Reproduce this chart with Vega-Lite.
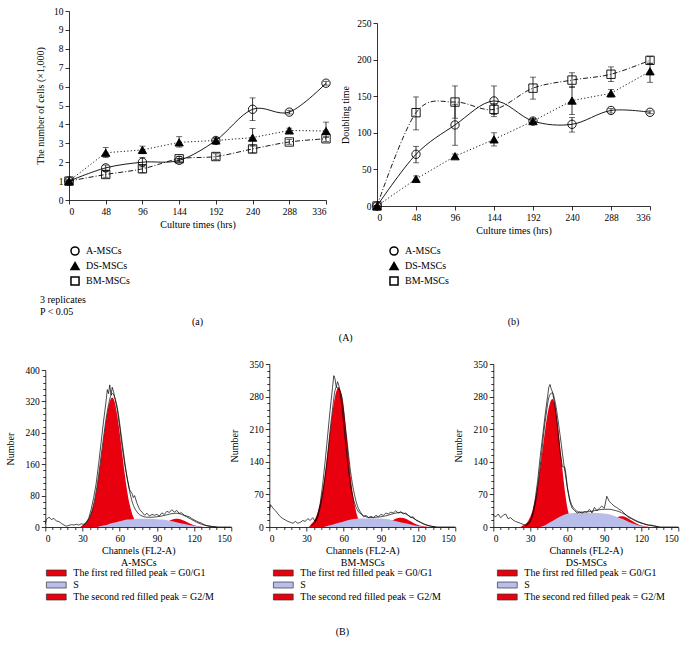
{
"$schema": "https://vega.github.io/schema/vega-lite/v6.json",
"padding": {"left": 5, "top": 6, "right": 5, "bottom": 5},
"background": "white",
"config": {
  "font": "Liberation Serif",
  "view": {"stroke": null},
  "axis": {"labelFont": "Liberation Serif", "titleFont": "Liberation Serif", "labelFontSize": 9.5, "titleFontSize": 10, "titleFontWeight": "normal", "labelColor": "black", "titleColor": "black", "domainColor": "black", "tickColor": "black", "grid": false, "tickSize": 4, "labelPadding": 2, "domainWidth": 0.8, "tickWidth": 0.8},
  "legend": {"labelFont": "Liberation Serif", "labelFontSize": 10, "titleFont": "Liberation Serif", "titleFontWeight": "normal", "titleFontSize": 10, "padding": 0, "labelColor": "black", "titleColor": "black"},
  "title": {"font": "Liberation Serif", "fontSize": 10, "fontWeight": "normal", "color": "black"}
},
"datasets": {
  "growth": [
    {"t":0,"series":"A-MSCs","v":1.0,"lo":0.95,"hi":1.05},{"t":48,"series":"A-MSCs","v":1.7,"lo":1.55,"hi":1.85},{"t":96,"series":"A-MSCs","v":2.0,"lo":1.75,"hi":2.25},{"t":144,"series":"A-MSCs","v":2.1,"lo":2.0,"hi":2.2},{"t":192,"series":"A-MSCs","v":3.15,"lo":3.05,"hi":3.25},{"t":240,"series":"A-MSCs","v":4.8,"lo":4.2,"hi":5.4},{"t":288,"series":"A-MSCs","v":4.65,"lo":4.55,"hi":4.75},{"t":336,"series":"A-MSCs","v":6.18,"lo":6.08,"hi":6.28},
    {"t":0,"series":"DS-MSCs","v":1.0,"lo":0.95,"hi":1.05},{"t":48,"series":"DS-MSCs","v":2.5,"lo":2.25,"hi":2.78},{"t":96,"series":"DS-MSCs","v":2.65,"lo":2.45,"hi":2.85},{"t":144,"series":"DS-MSCs","v":3.05,"lo":2.8,"hi":3.35},{"t":192,"series":"DS-MSCs","v":3.15,"lo":3.0,"hi":3.3},{"t":240,"series":"DS-MSCs","v":3.3,"lo":2.85,"hi":3.78},{"t":288,"series":"DS-MSCs","v":3.68,"lo":3.55,"hi":3.8},{"t":336,"series":"DS-MSCs","v":3.65,"lo":3.3,"hi":4.12},
    {"t":0,"series":"BM-MSCs","v":1.0,"lo":0.95,"hi":1.05},{"t":48,"series":"BM-MSCs","v":1.35,"lo":1.2,"hi":1.5},{"t":96,"series":"BM-MSCs","v":1.65,"lo":1.45,"hi":1.85},{"t":144,"series":"BM-MSCs","v":2.18,"lo":2.05,"hi":2.3},{"t":192,"series":"BM-MSCs","v":2.3,"lo":2.15,"hi":2.45},{"t":240,"series":"BM-MSCs","v":2.7,"lo":2.5,"hi":2.9},{"t":288,"series":"BM-MSCs","v":3.07,"lo":2.95,"hi":3.2},{"t":336,"series":"BM-MSCs","v":3.24,"lo":3.1,"hi":3.35}
  ],
  "dbl": [
    {"t":0,"series":"A-MSCs","v":0,"lo":0,"hi":0},{"t":48,"series":"A-MSCs","v":70.6,"lo":59,"hi":81.5},{"t":96,"series":"A-MSCs","v":110.7,"lo":83,"hi":139},{"t":144,"series":"A-MSCs","v":143.5,"lo":125,"hi":164},{"t":192,"series":"A-MSCs","v":116,"lo":113,"hi":119},{"t":240,"series":"A-MSCs","v":111.6,"lo":101,"hi":121},{"t":288,"series":"A-MSCs","v":130.5,"lo":127,"hi":133},{"t":336,"series":"A-MSCs","v":128,"lo":126,"hi":130},
    {"t":0,"series":"DS-MSCs","v":0,"lo":0,"hi":0},{"t":48,"series":"DS-MSCs","v":37,"lo":33,"hi":41},{"t":96,"series":"DS-MSCs","v":68,"lo":65,"hi":71},{"t":144,"series":"DS-MSCs","v":91,"lo":82,"hi":100},{"t":192,"series":"DS-MSCs","v":116,"lo":113,"hi":119},{"t":240,"series":"DS-MSCs","v":144,"lo":125,"hi":163},{"t":288,"series":"DS-MSCs","v":154,"lo":149,"hi":159},{"t":336,"series":"DS-MSCs","v":184,"lo":169,"hi":195},
    {"t":0,"series":"BM-MSCs","v":0,"lo":0,"hi":0},{"t":48,"series":"BM-MSCs","v":127.5,"lo":104,"hi":149},{"t":96,"series":"BM-MSCs","v":142,"lo":120,"hi":164},{"t":144,"series":"BM-MSCs","v":132,"lo":122,"hi":140},{"t":192,"series":"BM-MSCs","v":161,"lo":146,"hi":176},{"t":240,"series":"BM-MSCs","v":172,"lo":162,"hi":182},{"t":288,"series":"BM-MSCs","v":180,"lo":170,"hi":190},{"t":336,"series":"BM-MSCs","v":199,"lo":195,"hi":204}
  ],
  "rawA": [{"ch":0,"count":8},{"ch":1,"count":20},{"ch":3,"count":25},{"ch":5,"count":19},{"ch":7,"count":22},{"ch":9,"count":15},{"ch":11,"count":14},{"ch":13,"count":9},{"ch":15,"count":5},{"ch":17,"count":2},{"ch":19,"count":4},{"ch":21,"count":6},{"ch":23,"count":5},{"ch":25,"count":7},{"ch":27,"count":5},{"ch":29,"count":8},{"ch":31,"count":7},{"ch":33,"count":12},{"ch":35,"count":22},{"ch":37,"count":45},{"ch":39,"count":75},{"ch":41,"count":110},{"ch":43,"count":160},{"ch":45,"count":215},{"ch":47,"count":270},{"ch":49,"count":320},{"ch":50,"count":350},{"ch":51,"count":340},{"ch":52,"count":362},{"ch":53,"count":336},{"ch":54,"count":356},{"ch":55,"count":345},{"ch":56,"count":330},{"ch":58,"count":300},{"ch":60,"count":255},{"ch":62,"count":205},{"ch":64,"count":160},{"ch":66,"count":125},{"ch":68,"count":95},{"ch":70,"count":85},{"ch":71,"count":75},{"ch":72,"count":80},{"ch":74,"count":60},{"ch":76,"count":45},{"ch":78,"count":38},{"ch":80,"count":30},{"ch":82,"count":35},{"ch":84,"count":28},{"ch":86,"count":32},{"ch":88,"count":30},{"ch":90,"count":32},{"ch":92,"count":28},{"ch":94,"count":36},{"ch":96,"count":32},{"ch":98,"count":40},{"ch":100,"count":37},{"ch":102,"count":44},{"ch":104,"count":38},{"ch":106,"count":42},{"ch":108,"count":35},{"ch":110,"count":36},{"ch":112,"count":30},{"ch":114,"count":28},{"ch":116,"count":26},{"ch":118,"count":22},{"ch":120,"count":18},{"ch":122,"count":15},{"ch":124,"count":12},{"ch":126,"count":10},{"ch":128,"count":6},{"ch":130,"count":4},{"ch":132,"count":3},{"ch":135,"count":1},{"ch":140,"count":0},{"ch":150,"count":0}],
  "fitA": [{"ch":30,"count":3},{"ch":34,"count":15},{"ch":38,"count":45},{"ch":42,"count":110},{"ch":46,"count":205},{"ch":50,"count":295},{"ch":54,"count":340},{"ch":58,"count":305},{"ch":62,"count":215},{"ch":66,"count":125},{"ch":70,"count":65},{"ch":74,"count":38},{"ch":78,"count":28},{"ch":82,"count":25},{"ch":86,"count":25},{"ch":90,"count":26},{"ch":94,"count":28},{"ch":98,"count":31},{"ch":102,"count":34},{"ch":106,"count":35},{"ch":110,"count":32},{"ch":114,"count":26},{"ch":118,"count":19},{"ch":122,"count":12},{"ch":126,"count":7},{"ch":130,"count":3},{"ch":134,"count":1},{"ch":138,"count":0}],
  "g1A": [{"ch":28,"count":0},{"ch":30,"count":3.7},{"ch":32,"count":7.5},{"ch":34,"count":14.5},{"ch":36,"count":26},{"ch":38,"count":45},{"ch":40,"count":71},{"ch":42,"count":107},{"ch":44,"count":151},{"ch":46,"count":200},{"ch":48,"count":249},{"ch":50,"count":291},{"ch":52,"count":320},{"ch":54,"count":330},{"ch":56,"count":318},{"ch":58,"count":285},{"ch":60,"count":240},{"ch":62,"count":188},{"ch":64,"count":137},{"ch":66,"count":92},{"ch":68,"count":58},{"ch":70,"count":34},{"ch":72,"count":19},{"ch":74,"count":9},{"ch":76,"count":4},{"ch":78,"count":0}],
  "sA": [{"ch":42,"count":0},{"ch":46,"count":3},{"ch":50,"count":6},{"ch":54,"count":10},{"ch":58,"count":13},{"ch":62,"count":16},{"ch":66,"count":19},{"ch":70,"count":20},{"ch":75,"count":21},{"ch":80,"count":21},{"ch":85,"count":21},{"ch":90,"count":20},{"ch":95,"count":19},{"ch":100,"count":16},{"ch":105,"count":13},{"ch":110,"count":9},{"ch":115,"count":6},{"ch":120,"count":3},{"ch":125,"count":1},{"ch":128,"count":0}],
  "g2A": [{"ch":86,"count":0.9},{"ch":88,"count":1.7},{"ch":90,"count":2.8},{"ch":92,"count":4.5},{"ch":94,"count":6.8},{"ch":96,"count":9.6},{"ch":98,"count":12.7},{"ch":100,"count":15.9},{"ch":102,"count":18.5},{"ch":104,"count":20.3},{"ch":106,"count":21},{"ch":108,"count":20.3},{"ch":110,"count":18.5},{"ch":112,"count":15.9},{"ch":114,"count":12.7},{"ch":116,"count":9.6},{"ch":118,"count":6.8},{"ch":120,"count":4.5},{"ch":122,"count":2.8},{"ch":124,"count":1.7},{"ch":126,"count":0.9},{"ch":128,"count":0}],
  "rawB": [{"ch":0,"count":35},{"ch":1,"count":48},{"ch":3,"count":40},{"ch":5,"count":35},{"ch":7,"count":28},{"ch":9,"count":22},{"ch":11,"count":18},{"ch":13,"count":15},{"ch":15,"count":12},{"ch":17,"count":10},{"ch":19,"count":8},{"ch":21,"count":12},{"ch":23,"count":8},{"ch":25,"count":10},{"ch":27,"count":14},{"ch":29,"count":12},{"ch":31,"count":18},{"ch":33,"count":14},{"ch":35,"count":20},{"ch":37,"count":12},{"ch":39,"count":25},{"ch":41,"count":50},{"ch":43,"count":90},{"ch":45,"count":140},{"ch":47,"count":195},{"ch":49,"count":250},{"ch":51,"count":300},{"ch":52,"count":325},{"ch":53,"count":318},{"ch":54,"count":300},{"ch":55,"count":312},{"ch":56,"count":305},{"ch":58,"count":272},{"ch":60,"count":222},{"ch":62,"count":168},{"ch":64,"count":118},{"ch":66,"count":82},{"ch":68,"count":58},{"ch":70,"count":42},{"ch":72,"count":32},{"ch":74,"count":28},{"ch":76,"count":22},{"ch":78,"count":25},{"ch":80,"count":20},{"ch":82,"count":23},{"ch":84,"count":20},{"ch":86,"count":25},{"ch":88,"count":22},{"ch":90,"count":27},{"ch":92,"count":25},{"ch":94,"count":30},{"ch":96,"count":28},{"ch":98,"count":32},{"ch":100,"count":30},{"ch":102,"count":35},{"ch":104,"count":30},{"ch":106,"count":33},{"ch":108,"count":28},{"ch":110,"count":30},{"ch":112,"count":25},{"ch":114,"count":20},{"ch":116,"count":22},{"ch":118,"count":15},{"ch":120,"count":12},{"ch":122,"count":10},{"ch":124,"count":7},{"ch":126,"count":5},{"ch":128,"count":3},{"ch":132,"count":1},{"ch":136,"count":0},{"ch":150,"count":0}],
  "fitB": [{"ch":34,"count":3},{"ch":38,"count":15},{"ch":42,"count":55},{"ch":46,"count":130},{"ch":50,"count":230},{"ch":54,"count":300},{"ch":58,"count":285},{"ch":62,"count":200},{"ch":66,"count":110},{"ch":70,"count":55},{"ch":74,"count":30},{"ch":78,"count":22},{"ch":82,"count":20},{"ch":86,"count":21},{"ch":90,"count":22},{"ch":94,"count":24},{"ch":98,"count":27},{"ch":102,"count":30},{"ch":106,"count":31},{"ch":110,"count":28},{"ch":114,"count":22},{"ch":118,"count":16},{"ch":122,"count":10},{"ch":126,"count":5},{"ch":130,"count":2},{"ch":134,"count":0}],
  "g1B": [{"ch":32,"count":0},{"ch":34,"count":7},{"ch":36,"count":13},{"ch":38,"count":24},{"ch":40,"count":41},{"ch":42,"count":65},{"ch":44,"count":97},{"ch":46,"count":137},{"ch":48,"count":182},{"ch":50,"count":226},{"ch":52,"count":265},{"ch":54,"count":291},{"ch":56,"count":300},{"ch":58,"count":288},{"ch":60,"count":255},{"ch":62,"count":205},{"ch":64,"count":150},{"ch":66,"count":100},{"ch":68,"count":60},{"ch":70,"count":33},{"ch":72,"count":16},{"ch":74,"count":7},{"ch":76,"count":2},{"ch":78,"count":0}],
  "sB": [{"ch":44,"count":0},{"ch":48,"count":3},{"ch":52,"count":6},{"ch":56,"count":9},{"ch":60,"count":12},{"ch":64,"count":15},{"ch":68,"count":17},{"ch":72,"count":18},{"ch":80,"count":18},{"ch":88,"count":18},{"ch":94,"count":17},{"ch":100,"count":14},{"ch":105,"count":11},{"ch":110,"count":8},{"ch":115,"count":5},{"ch":120,"count":2},{"ch":125,"count":0}],
  "g2B": [{"ch":86,"count":0.9},{"ch":88,"count":1.6},{"ch":90,"count":2.7},{"ch":92,"count":4.3},{"ch":94,"count":6.5},{"ch":96,"count":9.2},{"ch":98,"count":12.1},{"ch":100,"count":15.1},{"ch":102,"count":17.7},{"ch":104,"count":19.4},{"ch":106,"count":20},{"ch":108,"count":19.4},{"ch":110,"count":17.7},{"ch":112,"count":15.1},{"ch":114,"count":12.1},{"ch":116,"count":9.2},{"ch":118,"count":6.5},{"ch":120,"count":4.3},{"ch":122,"count":2.7},{"ch":124,"count":1.6},{"ch":126,"count":0.9},{"ch":128,"count":0}],
  "rawC": [{"ch":0,"count":25},{"ch":2,"count":22},{"ch":4,"count":28},{"ch":6,"count":20},{"ch":8,"count":25},{"ch":10,"count":28},{"ch":12,"count":18},{"ch":14,"count":20},{"ch":16,"count":15},{"ch":18,"count":12},{"ch":20,"count":10},{"ch":22,"count":8},{"ch":24,"count":6},{"ch":26,"count":4},{"ch":28,"count":8},{"ch":30,"count":12},{"ch":32,"count":30},{"ch":34,"count":60},{"ch":36,"count":100},{"ch":38,"count":150},{"ch":40,"count":195},{"ch":42,"count":240},{"ch":44,"count":280},{"ch":45,"count":300},{"ch":46,"count":306},{"ch":47,"count":296},{"ch":48,"count":290},{"ch":50,"count":260},{"ch":52,"count":215},{"ch":54,"count":165},{"ch":56,"count":130},{"ch":58,"count":128},{"ch":59,"count":112},{"ch":60,"count":85},{"ch":62,"count":55},{"ch":64,"count":40},{"ch":66,"count":35},{"ch":68,"count":30},{"ch":70,"count":32},{"ch":72,"count":30},{"ch":74,"count":33},{"ch":76,"count":32},{"ch":78,"count":38},{"ch":80,"count":30},{"ch":82,"count":42},{"ch":84,"count":35},{"ch":86,"count":40},{"ch":88,"count":45},{"ch":90,"count":40},{"ch":92,"count":66},{"ch":94,"count":55},{"ch":96,"count":50},{"ch":98,"count":45},{"ch":100,"count":42},{"ch":102,"count":38},{"ch":104,"count":35},{"ch":106,"count":30},{"ch":108,"count":25},{"ch":110,"count":20},{"ch":112,"count":18},{"ch":114,"count":15},{"ch":116,"count":12},{"ch":118,"count":10},{"ch":120,"count":8},{"ch":122,"count":7},{"ch":124,"count":5},{"ch":126,"count":4},{"ch":128,"count":4},{"ch":130,"count":3},{"ch":133,"count":1},{"ch":136,"count":0},{"ch":150,"count":0}],
  "fitC": [{"ch":26,"count":2},{"ch":30,"count":12},{"ch":34,"count":50},{"ch":38,"count":130},{"ch":42,"count":225},{"ch":46,"count":285},{"ch":48,"count":288},{"ch":50,"count":270},{"ch":54,"count":200},{"ch":58,"count":120},{"ch":62,"count":60},{"ch":66,"count":38},{"ch":70,"count":32},{"ch":74,"count":32},{"ch":78,"count":33},{"ch":82,"count":35},{"ch":86,"count":37},{"ch":90,"count":38},{"ch":94,"count":38},{"ch":98,"count":36},{"ch":102,"count":33},{"ch":106,"count":28},{"ch":110,"count":22},{"ch":114,"count":16},{"ch":118,"count":11},{"ch":122,"count":7},{"ch":126,"count":4},{"ch":130,"count":2},{"ch":134,"count":0}],
  "g1C": [{"ch":22,"count":0},{"ch":24,"count":3},{"ch":26,"count":6},{"ch":28,"count":12},{"ch":30,"count":22},{"ch":32,"count":37},{"ch":34,"count":60},{"ch":36,"count":89},{"ch":38,"count":126},{"ch":40,"count":167},{"ch":42,"count":208},{"ch":44,"count":243},{"ch":46,"count":267},{"ch":48,"count":275},{"ch":50,"count":262},{"ch":52,"count":228},{"ch":54,"count":178},{"ch":56,"count":125},{"ch":58,"count":78},{"ch":60,"count":42},{"ch":62,"count":20},{"ch":64,"count":8},{"ch":66,"count":2},{"ch":68,"count":0}],
  "sC": [{"ch":38,"count":0},{"ch":42,"count":4},{"ch":46,"count":10},{"ch":50,"count":16},{"ch":54,"count":22},{"ch":58,"count":27},{"ch":62,"count":29},{"ch":70,"count":30},{"ch":80,"count":30},{"ch":90,"count":29},{"ch":96,"count":26},{"ch":100,"count":22},{"ch":105,"count":17},{"ch":110,"count":11},{"ch":115,"count":6},{"ch":120,"count":2},{"ch":124,"count":0}],
  "g2C": [{"ch":84,"count":1.0},{"ch":86,"count":1.8},{"ch":88,"count":3.1},{"ch":90,"count":5.0},{"ch":92,"count":7.5},{"ch":94,"count":10.5},{"ch":96,"count":13.9},{"ch":98,"count":17.4},{"ch":100,"count":20.3},{"ch":102,"count":22.3},{"ch":104,"count":23},{"ch":106,"count":22.3},{"ch":108,"count":20.3},{"ch":110,"count":17.4},{"ch":112,"count":13.9},{"ch":114,"count":10.5},{"ch":116,"count":7.5},{"ch":118,"count":5.0},{"ch":120,"count":3.1},{"ch":122,"count":1.8},{"ch":124,"count":1.0},{"ch":126,"count":0}]
},
"vconcat": [
  {
    "hconcat": [
      {
        "width": 257, "height": 189,
        "title": {"text": "(a)", "orient": "bottom", "offset": 0},
        "data": {"name": "growth"},
        "encoding": {
          "x": {"field": "t", "type": "quantitative", "scale": {"domain": [0, 336], "nice": false}, "axis": {"values": [0,48,96,144,192,240,288,336], "title": "Culture times (hrs)", "titlePadding": 4}},
          "y": {"field": "v", "type": "quantitative", "scale": {"domain": [0, 10], "nice": false}, "axis": {"values": [0,1,2,3,4,5,6,7,8,9,10], "title": "The number of cells (×1,000)", "titlePadding": 8}}
        },
        "layer": [
          {"transform": [{"filter": "datum.series === 'A-MSCs'"}], "mark": {"type": "line", "interpolate": "cardinal", "color": "black", "strokeWidth": 0.9}},
          {"transform": [{"filter": "datum.series === 'DS-MSCs'"}], "mark": {"type": "line", "color": "black", "strokeWidth": 0.9, "strokeDash": [1.2, 2.2]}},
          {"transform": [{"filter": "datum.series === 'BM-MSCs'"}], "mark": {"type": "line", "interpolate": "cardinal", "color": "black", "strokeWidth": 0.9, "strokeDash": [5, 2, 1, 2]}},
          {"mark": {"type": "errorbar", "ticks": {"size": 6}, "color": "black", "thickness": 0.8},
           "encoding": {"y": {"field": "lo", "type": "quantitative", "title": "The number of cells (×1,000)"}, "y2": {"field": "hi"}}},
          {"mark": {"type": "point", "filled": true, "stroke": "black", "strokeWidth": 0.9, "size": 70, "opacity": 1},
           "encoding": {
             "shape": {"field": "series", "type": "nominal", "scale": {"domain": ["A-MSCs","DS-MSCs","BM-MSCs"], "range": ["circle","triangle-up","square"]},
                       "legend": {"title": ["3 replicates", "P < 0.05"], "titleOrient": "bottom", "titleAnchor": "start", "titlePadding": 7, "orient": "none", "legendX": -29, "legendY": 235, "symbolOffset": 30, "symbolSize": 65, "rowPadding": 0, "labelOffset": 6, "encode": {"symbols": {"update": {"stroke": {"value": "black"}, "strokeWidth": {"value": 0.9}}}}}},
             "fill": {"field": "series", "type": "nominal", "scale": {"domain": ["A-MSCs","DS-MSCs","BM-MSCs"], "range": ["transparent","black","transparent"]},
                       "legend": {"title": ["3 replicates", "P < 0.05"], "titleOrient": "bottom", "titleAnchor": "start", "titlePadding": 7, "orient": "none", "legendX": -29, "legendY": 235, "symbolOffset": 30, "symbolSize": 65, "rowPadding": 0, "labelOffset": 6, "encode": {"symbols": {"update": {"stroke": {"value": "black"}, "strokeWidth": {"value": 0.9}}}}}}
           }}
        ]
      },
      {
        "width": 273, "height": 195,
        "title": {"text": "(b)", "orient": "bottom", "offset": 28},
        "data": {"name": "dbl"},
        "encoding": {
          "x": {"field": "t", "type": "quantitative", "scale": {"domain": [0, 336], "nice": false}, "axis": {"values": [0,48,96,144,192,240,288,336], "title": "Culture times (hrs)", "titlePadding": 4}},
          "y": {"field": "v", "type": "quantitative", "scale": {"domain": [0, 250], "nice": false, "range": [195, 12]}, "axis": {"values": [0,50,100,150,200,250], "title": "Doubling time", "titlePadding": 6}}
        },
        "layer": [
          {"transform": [{"filter": "datum.series === 'A-MSCs'"}], "mark": {"type": "line", "interpolate": "cardinal", "color": "black", "strokeWidth": 0.9}},
          {"transform": [{"filter": "datum.series === 'DS-MSCs'"}], "mark": {"type": "line", "color": "black", "strokeWidth": 0.9, "strokeDash": [1.2, 2.2]}},
          {"transform": [{"filter": "datum.series === 'BM-MSCs'"}], "mark": {"type": "line", "interpolate": "cardinal", "color": "black", "strokeWidth": 0.9, "strokeDash": [5, 2, 1, 2]}},
          {"mark": {"type": "errorbar", "ticks": {"size": 6}, "color": "black", "thickness": 0.8},
           "encoding": {"y": {"field": "lo", "type": "quantitative", "title": "Doubling time"}, "y2": {"field": "hi"}}},
          {"mark": {"type": "point", "filled": true, "stroke": "black", "strokeWidth": 0.9, "size": 70, "opacity": 1},
           "encoding": {
             "shape": {"field": "series", "type": "nominal", "scale": {"domain": ["A-MSCs","DS-MSCs","BM-MSCs"], "range": ["circle","triangle-up","square"]},
                       "legend": {"title": null, "orient": "none", "legendX": 12, "legendY": 235, "symbolSize": 65, "rowPadding": 0, "labelOffset": 6, "encode": {"symbols": {"update": {"stroke": {"value": "black"}, "strokeWidth": {"value": 0.9}}}}}},
             "fill": {"field": "series", "type": "nominal", "scale": {"domain": ["A-MSCs","DS-MSCs","BM-MSCs"], "range": ["transparent","black","transparent"]},
                       "legend": {"title": null, "orient": "none", "legendX": 12, "legendY": 235, "symbolSize": 65, "rowPadding": 0, "labelOffset": 6, "encode": {"symbols": {"update": {"stroke": {"value": "black"}, "strokeWidth": {"value": 0.9}}}}}}
           }}
        ]
      }
    ],
    "spacing": 8,
    "title": {"text": "(A)", "orient": "bottom", "offset": 6, "anchor": "middle"},
    "resolve": {"scale": {"shape": "independent", "fill": "independent", "x": "independent", "y": "independent"}, "legend": {"shape": "independent", "fill": "independent"}}
  },
  {
    "hconcat": [
      {
        "width": 186, "height": 163,
        "encoding": {
          "x": {"field": "ch", "type": "quantitative", "scale": {"domain": [0, 150], "nice": false}, "axis": {"values": [0,6,12,18,24,30,36,42,48,54,60,66,72,78,84,90,96,102,108,114,120,126,132,138,144,150], "labelExpr": "datum.value % 30 === 0 ? datum.label : ''", "labelOverlap": false, "tickSize": {"condition": {"test": "datum.value % 30 === 0", "value": 4}, "value": 2.5}, "title": ["Channels (FL2-A)", "A-MSCs"], "titlePadding": 3}},
          "y": {"field": "count", "type": "quantitative", "scale": {"domain": [0, 400], "nice": false, "range": [163, 6]}, "axis": {"values": [0,16,32,48,64,80,96,112,128,144,160,176,192,208,224,240,256,272,288,304,320,336,352,368,384,400], "labelExpr": "datum.value % 80 === 0 ? datum.label : ''", "labelOverlap": false, "tickSize": {"condition": {"test": "datum.value % 80 === 0", "value": 4}, "value": 2.5}, "title": "Number", "titlePadding": 10}}
        },
        "layer": [
          {"data": {"name": "g1A"}, "mark": {"type": "area", "interpolate": "monotone"}, "encoding": {"fill": {"datum": "The first red filled peak = G0/G1", "type": "nominal", "scale": {"domain": ["The first red filled peak = G0/G1", "S", "The second red filled peak = G2/M"], "range": ["#e8000e", "#b9bde9", "#e8000e"]}, "legend": {"title": null, "orient": "none", "legendX": 6, "legendY": 204, "symbolType": "M-3.3,-1H3.3V1H-3.3Z", "symbolSize": 36, "symbolStrokeColor": "#333333", "symbolStrokeWidth": 0.7, "symbolOpacity": 1, "rowPadding": 2, "labelOffset": 12}}}},
          {"data": {"name": "g2A"}, "mark": {"type": "area", "interpolate": "monotone"}, "encoding": {"fill": {"datum": "The second red filled peak = G2/M", "type": "nominal"}}},
          {"data": {"name": "sA"}, "mark": {"type": "area", "interpolate": "monotone"}, "encoding": {"fill": {"datum": "S", "type": "nominal"}}},
          {"data": {"name": "fitA"}, "mark": {"type": "line", "interpolate": "monotone", "color": "black", "strokeWidth": 0.7}},
          {"data": {"name": "rawA"}, "mark": {"type": "line", "color": "black", "strokeWidth": 0.7}}
        ]
      },
      {
        "width": 186, "height": 163,
        "encoding": {
          "x": {"field": "ch", "type": "quantitative", "scale": {"domain": [0, 150], "nice": false}, "axis": {"values": [0,6,12,18,24,30,36,42,48,54,60,66,72,78,84,90,96,102,108,114,120,126,132,138,144,150], "labelExpr": "datum.value % 30 === 0 ? datum.label : ''", "labelOverlap": false, "tickSize": {"condition": {"test": "datum.value % 30 === 0", "value": 4}, "value": 2.5}, "title": ["Channels (FL2-A)", "BM-MSCs"], "titlePadding": 3}},
          "y": {"field": "count", "type": "quantitative", "scale": {"domain": [0, 350], "nice": false}, "axis": {"values": [0,14,28,42,56,70,84,98,112,126,140,154,168,182,196,210,224,238,252,266,280,294,308,322,336,350], "labelExpr": "datum.value % 70 === 0 ? datum.label : ''", "labelOverlap": false, "tickSize": {"condition": {"test": "datum.value % 70 === 0", "value": 4}, "value": 2.5}, "title": "Number", "titlePadding": 10}}
        },
        "layer": [
          {"data": {"name": "g1B"}, "mark": {"type": "area", "interpolate": "monotone"}, "encoding": {"fill": {"datum": "The first red filled peak = G0/G1", "type": "nominal", "scale": {"domain": ["The first red filled peak = G0/G1", "S", "The second red filled peak = G2/M"], "range": ["#e8000e", "#b9bde9", "#e8000e"]}, "legend": {"title": null, "orient": "none", "legendX": 9, "legendY": 204, "symbolType": "M-3.3,-1H3.3V1H-3.3Z", "symbolSize": 36, "symbolStrokeColor": "#333333", "symbolStrokeWidth": 0.7, "symbolOpacity": 1, "rowPadding": 2, "labelOffset": 12}}}},
          {"data": {"name": "g2B"}, "mark": {"type": "area", "interpolate": "monotone"}, "encoding": {"fill": {"datum": "The second red filled peak = G2/M", "type": "nominal"}}},
          {"data": {"name": "sB"}, "mark": {"type": "area", "interpolate": "monotone"}, "encoding": {"fill": {"datum": "S", "type": "nominal"}}},
          {"data": {"name": "fitB"}, "mark": {"type": "line", "interpolate": "monotone", "color": "black", "strokeWidth": 0.7}},
          {"data": {"name": "rawB"}, "mark": {"type": "line", "color": "black", "strokeWidth": 0.7}}
        ]
      },
      {
        "width": 185, "height": 163,
        "encoding": {
          "x": {"field": "ch", "type": "quantitative", "scale": {"domain": [0, 150], "nice": false}, "axis": {"values": [0,6,12,18,24,30,36,42,48,54,60,66,72,78,84,90,96,102,108,114,120,126,132,138,144,150], "labelExpr": "datum.value % 30 === 0 ? datum.label : ''", "labelOverlap": false, "tickSize": {"condition": {"test": "datum.value % 30 === 0", "value": 4}, "value": 2.5}, "title": ["Channels (FL2-A)", "DS-MSCs"], "titlePadding": 3}},
          "y": {"field": "count", "type": "quantitative", "scale": {"domain": [0, 350], "nice": false}, "axis": {"values": [0,14,28,42,56,70,84,98,112,126,140,154,168,182,196,210,224,238,252,266,280,294,308,322,336,350], "labelExpr": "datum.value % 70 === 0 ? datum.label : ''", "labelOverlap": false, "tickSize": {"condition": {"test": "datum.value % 70 === 0", "value": 4}, "value": 2.5}, "title": "Number", "titlePadding": 10}}
        },
        "layer": [
          {"data": {"name": "g1C"}, "mark": {"type": "area", "interpolate": "monotone"}, "encoding": {"fill": {"datum": "The first red filled peak = G0/G1", "type": "nominal", "scale": {"domain": ["The first red filled peak = G0/G1", "S", "The second red filled peak = G2/M"], "range": ["#e8000e", "#b9bde9", "#e8000e"]}, "legend": {"title": null, "orient": "none", "legendX": 9, "legendY": 204, "symbolType": "M-3.3,-1H3.3V1H-3.3Z", "symbolSize": 36, "symbolStrokeColor": "#333333", "symbolStrokeWidth": 0.7, "symbolOpacity": 1, "rowPadding": 2, "labelOffset": 12}}}},
          {"data": {"name": "g2C"}, "mark": {"type": "area", "interpolate": "monotone"}, "encoding": {"fill": {"datum": "The second red filled peak = G2/M", "type": "nominal"}}},
          {"data": {"name": "sC"}, "mark": {"type": "area", "interpolate": "monotone"}, "encoding": {"fill": {"datum": "S", "type": "nominal"}}},
          {"data": {"name": "fitC"}, "mark": {"type": "line", "interpolate": "monotone", "color": "black", "strokeWidth": 0.7}},
          {"data": {"name": "rawC"}, "mark": {"type": "line", "color": "black", "strokeWidth": 0.7}}
        ]
      }
    ],
    "bounds": "flush",
    "spacing": 38,
    "title": {"text": "(B)", "orient": "bottom", "offset": 25, "anchor": "middle"},
    "resolve": {"scale": {"fill": "independent", "x": "independent", "y": "independent"}, "legend": {"fill": "independent"}}
  }
],
"center": true,
"spacing": 16,
"resolve": {"scale": {"fill": "independent", "shape": "independent", "x": "independent", "y": "independent"}, "legend": {"fill": "independent", "shape": "independent"}}
}
